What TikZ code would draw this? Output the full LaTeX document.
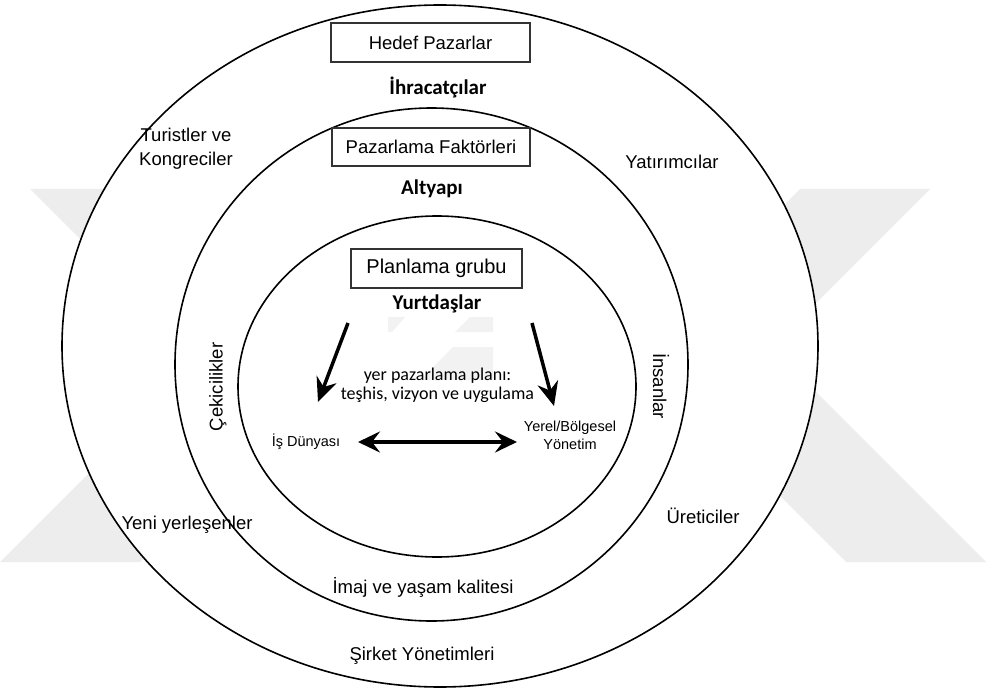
\documentclass[tikz,border=0pt]{standalone}
\usepackage{fontspec}
\setmainfont{Liberation Sans}
\newfontfamily\calibrifont{Carlito}
\usetikzlibrary{shapes.geometric,arrows.meta}

\begin{document}
\begin{tikzpicture}[x=1pt,y=-1pt,
  ring/.style={draw=black, line width=1.6pt, ellipse, inner sep=0pt},
  titlebox/.style={draw=black!80, line width=1.2pt, fill=white, inner sep=0pt,
    font=\fontsize{18.5}{22}\selectfont},
  lbl/.style={font=\fontsize{18.5}{24}\selectfont, anchor=base, align=center},
  boldlbl/.style={font=\calibrifont\bfseries\fontsize{21}{24}\selectfont, anchor=base},
  small/.style={font=\fontsize{14.5}{18}\selectfont, anchor=base, align=center},
  plantext/.style={font=\calibrifont\fontsize{18}{18.5}\selectfont, anchor=base, align=center},
  flow/.style={line width=3.5pt, -{Stealth[length=24pt,width=21pt,inset=8pt]}},
  both/.style={line width=3.5pt, {Stealth[length=22pt,width=21pt,inset=8pt]}-{Stealth[length=22pt,width=21pt,inset=8pt]}},
  wm/.style={fill=black!7, draw=none}]

\useasboundingbox (0,0) rectangle (986,690);
\fill[white] (0,0) rectangle (986,690);

% faint background watermark: two facing chevrons
\fill[wm] (30,189) -- (160,189) -- (336.5,365.5) -- (140,562) -- (0,562) -- (201.5,360.5) -- cycle;
\fill[wm] (800,189) -- (930,189) -- (771.5,347.5) -- (986,562) -- (846,562) -- (636.5,352.5) -- cycle;

% three nested rings
\node[ring, fill=white, minimum width=756pt, minimum height=682pt] (outer) at (440,346) {};
\node[ring, minimum width=513pt, minimum height=513pt] (middle) at (431.5,364.5) {};
\node[ring, minimum width=398pt, minimum height=341pt] (inner) at (437,386.5) {};

% watermark pieces showing near the centre
\fill[black!5] (420,380) -- (453,347) -- (493,347) -- (493,380) -- cycle;
\fill[black!5] (388,317) -- (405,317) -- (392,332) -- (388,332) -- cycle;
\fill[black!5] (470,317) -- (493,317) -- (493,332) -- (455,332) -- cycle;

% titled boxes
\node[titlebox, minimum width=199pt, minimum height=39pt] (hedef) at (430.5,42.5) {Hedef Pazarlar};
\node[titlebox, minimum width=198pt, minimum height=38pt] (faktor) at (431,147) {Pazarlama Faktörleri};
\node[titlebox, minimum width=171pt, minimum height=39pt, font=\fontsize{20}{24}\selectfont] (plan) at (436.5,268.5) {\strut Planlama grubu};

% bold group labels
\node[boldlbl] (ihr) at (438,95) {İhracatçılar};
\node[boldlbl] (alt) at (432,194) {Altyapı};
\node[boldlbl] (yurt) at (437,309) {Yurtdaşlar};

% outer ring labels
\node[lbl] (turist) at (186,166) {Turistler ve\\Kongreciler};
\node[lbl] (yatir) at (672,168) {Yatırımcılar};
\node[lbl] (yeni) at (187,529) {Yeni yerleşenler};
\node[lbl] (uret) at (703,523) {Üreticiler};
\node[lbl] (sirket) at (422,660) {Şirket Yönetimleri};

% middle ring labels
\node[lbl, anchor=center, rotate=90] (cek) at (218,387) {Çekicilikler};
\node[lbl, anchor=center, rotate=-90] (insan) at (661,386) {İnsanlar};
\node[lbl] (imaj) at (423,593) {İmaj ve yaşam kalitesi};

% inner ring content
\node[plantext] (yerplan) at (437.5,399) {yer pazarlama planı:\\teşhis, vizyon ve uygulama};
\node[small] (isd) at (306,446) {İş Dünyası};
\node[small] (yerel) at (570,449) {Yerel/Bölgesel\\Yönetim};

% arrows
\coordinate (la1) at (348,323);
\coordinate (la2) at (318,402);
\coordinate (ra1) at (532,323);
\coordinate (ra2) at (554,406);
\coordinate (da1) at (358,442);
\coordinate (da2) at (517,442);
\draw[flow] (la1) -- (la2);
\draw[flow] (ra1) -- (ra2);
\draw[both] (da1) -- (da2);
\end{tikzpicture}
\end{document}
